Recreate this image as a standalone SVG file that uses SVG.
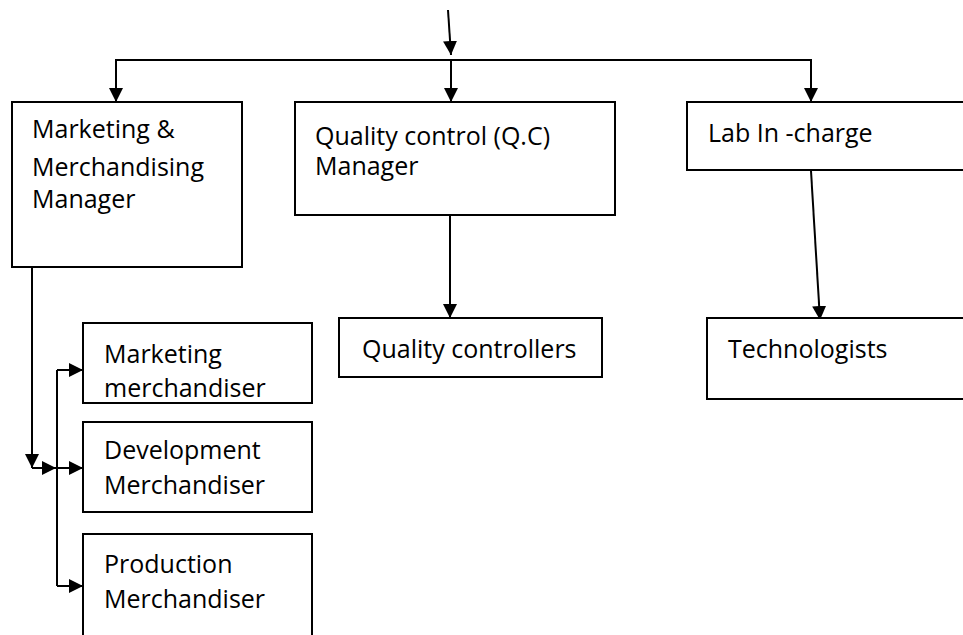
<svg xmlns="http://www.w3.org/2000/svg" width="963" height="635" viewBox="0 0 963 635">
<defs>
<marker id="ah" markerUnits="userSpaceOnUse" markerWidth="14" markerHeight="14" refX="14" refY="7" orient="auto">
<path d="M0,0 L14,7 L0,14 z" fill="#000"/>
</marker>
<style>
rect.box{fill:#fff;stroke:#000;stroke-width:2}
text{font-family:"Open Sans","Liberation Sans",sans-serif;font-size:25px;fill:#000}
.c{fill:none;stroke:#000;stroke-width:2}
.a{marker-end:url(#ah)}
</style>
</defs>
<rect width="963" height="635" fill="#fff"/>
<g id="connectors">
<line class="c a" x1="448" y1="10" x2="451" y2="55"/>
<polyline class="c" points="116,102 116,60 811,60 811,102"/>
<line class="c a" x1="116" y1="60" x2="116" y2="102"/>
<line class="c a" x1="451" y1="60" x2="451" y2="102"/>
<line class="c a" x1="811" y1="60" x2="811" y2="102"/>
<line class="c a" x1="450" y1="215" x2="450" y2="318"/>
<line class="c a" x1="811" y1="171" x2="820" y2="320"/>
<line class="c a" x1="32" y1="267" x2="32" y2="468"/>
<line class="c a" x1="32" y1="468" x2="56" y2="468"/>
<line class="c" x1="57" y1="370" x2="57" y2="586"/>
<line class="c a" x1="57" y1="370" x2="83" y2="370"/>
<line class="c a" x1="57" y1="468" x2="83" y2="468"/>
<line class="c a" x1="57" y1="586" x2="83" y2="586"/>
</g>
<g id="mmm">
<rect class="box" x="12" y="102" width="230" height="165"/>
<text x="32" y="138">Marketing &amp;</text>
<text x="32" y="176">Merchandising</text>
<text x="32" y="208">Manager</text>
</g>
<g id="qcm">
<rect class="box" x="295" y="102" width="320" height="113"/>
<text x="315" y="145">Quality control (Q.C)</text>
<text x="315" y="175">Manager</text>
</g>
<g id="lab">
<rect class="box" x="687" y="102" width="300" height="68"/>
<text x="708" y="142">Lab In -charge</text>
</g>
<g id="qc">
<rect class="box" x="339" y="318" width="263" height="59"/>
<text x="362" y="358">Quality controllers</text>
</g>
<g id="tech">
<rect class="box" x="707" y="318" width="300" height="81"/>
<text x="728" y="358">Technologists</text>
</g>
<g id="mktm">
<rect class="box" x="83" y="323" width="229" height="80"/>
<text x="104" y="363">Marketing</text>
<text x="104" y="397">merchandiser</text>
</g>
<g id="devm">
<rect class="box" x="83" y="422" width="229" height="90"/>
<text x="104" y="459">Development</text>
<text x="104" y="494">Merchandiser</text>
</g>
<g id="prodm">
<rect class="box" x="83" y="534" width="229" height="120"/>
<text x="104" y="573">Production</text>
<text x="104" y="608">Merchandiser</text>
</g>
</svg>
